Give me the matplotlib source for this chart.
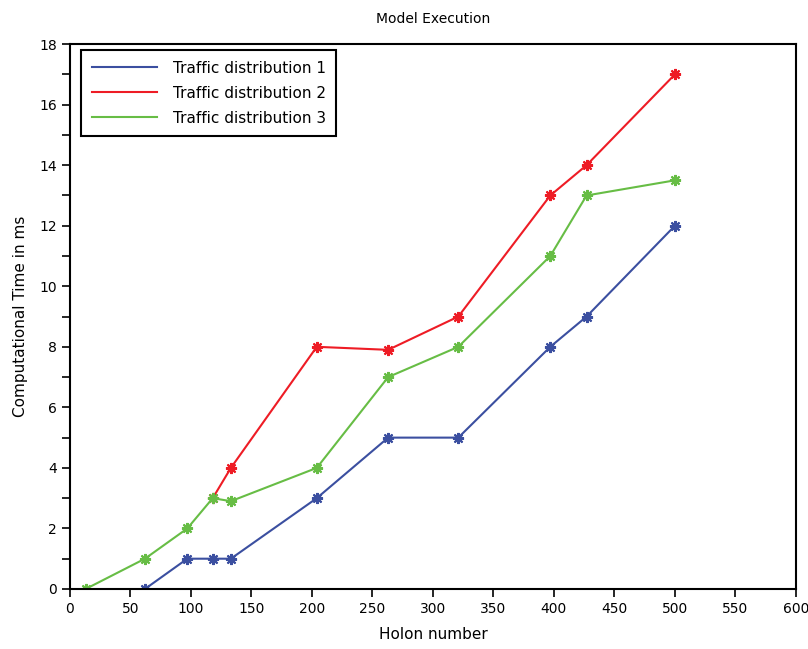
import matplotlib
matplotlib.use('Agg')
import matplotlib.pyplot as plt
from matplotlib.ticker import MultipleLocator

# data
x1 = [62, 97, 118, 133, 204, 263, 321, 397, 427, 500]
y1 = [0, 1, 1, 1, 3, 5, 5, 8, 9, 12]

x2 = [118, 133, 204, 263, 321, 397, 427, 500]
y2 = [3, 4, 8, 7.9, 9, 13, 14, 17]

x3 = [13, 62, 97, 118, 133, 204, 263, 321, 397, 427, 500]
y3 = [0, 1, 2, 3, 2.9, 4, 7, 8, 11, 13, 13.5]

labels = ['Traffic distribution 1', 'Traffic distribution 2', 'Traffic distribution 3']
colors = ['#3b4fa0', '#ee1c25', '#67bd45']

fig = plt.figure(figsize=(8.08, 6.49), dpi=100)
ax = fig.add_axes([0.0866, 0.0925, 0.8984, 0.8395])

for xs, ys, lab, c in zip([x1, x2, x3], [y1, y2, y3], labels, colors):
    ax.plot(xs, ys, color=c, lw=1.5, marker=(8, 2, 0), markersize=8,
            markeredgewidth=1.5, label=lab)

ax.set_xlim(0, 600)
ax.set_ylim(0, 18)
ax.xaxis.set_major_locator(MultipleLocator(50))
ax.yaxis.set_major_locator(MultipleLocator(2))
ax.yaxis.set_minor_locator(MultipleLocator(1))
ax.tick_params(which='both', direction='out', length=6, width=1.2, labelsize=10, top=False, right=False)
for s in ax.spines.values():
    s.set_linewidth(1.5)

ax.set_xlabel('Holon number', fontsize=11, labelpad=8)
ax.set_ylabel('Computational Time in ms', fontsize=11, labelpad=8)
ax.set_title('Model Execution', fontsize=10, pad=15)

leg = ax.legend(loc='upper left', bbox_to_anchor=(0.015, 0.989), borderaxespad=0,
                fontsize=11, handlelength=4.3, fancybox=False, edgecolor='black',
                framealpha=1, handletextpad=1.0, labelspacing=0.65, borderpad=0.7)
leg.get_frame().set_linewidth(1.5)
for h in leg.legend_handles:
    h.set_marker('')

fig.savefig('out.png', dpi=100)
